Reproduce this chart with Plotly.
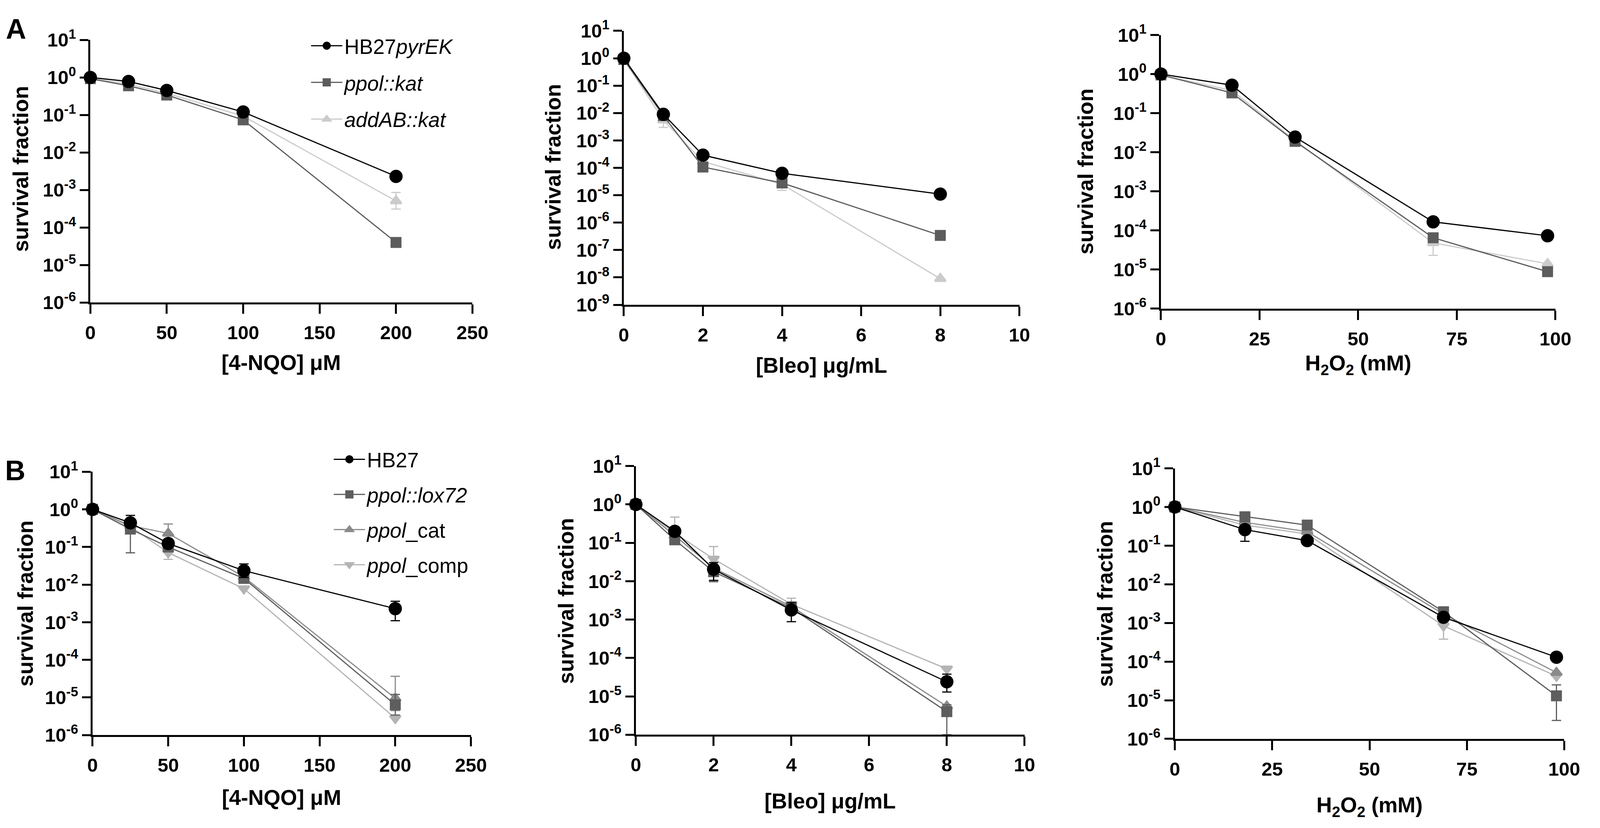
import plotly.graph_objects as go

# doses on the x axes
nqo_dose = [0, 25, 50, 100, 200]
bleo_dose = [0, 1, 2, 4, 8]
h2o2_dose = [0, 18, 34, 69, 98]

# panel A: HB27pyrEK, ppol::kat, addAB::kat
a_names = ['HB27<i>pyrEK</i>', '<i>ppol::kat</i>', '<i>addAB::kat</i>']
a_nqo_hb27 = [1.0, 0.78, 0.45, 0.12, 0.0023]
a_nqo_ppol = [0.93, 0.60, 0.34, 0.074, 4.0e-5]
a_nqo_addab = [0.95, 0.67, 0.38, 0.093, 5.1e-4]
a_nqo_addab_up = [0, 0, 0, 0, 3.5e-4]
a_nqo_addab_down = [0, 0, 0, 0, 2.0e-4]

a_bleo_hb27 = [1.0, 0.009, 2.9e-4, 6.3e-5, 1.1e-5]
a_bleo_ppol = [0.9, 0.008, 1.07e-4, 2.8e-5, 3.4e-7]
a_bleo_addab = [0.9, 5.5e-3, 1.7e-4, 2.5e-5, 9e-9]
a_bleo_addab_up = [0, 2.5e-3, 0, 1.0e-5, 0]
a_bleo_addab_down = [0, 2.5e-3, 0, 1.0e-5, 0]

a_h2o2_hb27 = [1.0, 0.52, 0.0245, 1.66e-4, 7.3e-5]
a_h2o2_ppol = [0.95, 0.33, 0.019, 6.5e-5, 8.8e-6]
a_h2o2_addab = [0.95, 0.38, 0.020, 4.8e-5, 1.4e-5]
a_h2o2_addab_up = [0, 0, 0, 2.5e-5, 0]
a_h2o2_addab_down = [0, 0, 0, 2.5e-5, 0]

# panel B: HB27, ppol::lox72, ppol_cat, ppol_comp
b_names = ['HB27', '<i>ppol::lox72</i>', '<i>ppol</i>_cat', '<i>ppol</i>_comp']
b_nqo_hb27 = [1.0, 0.44, 0.124, 0.0235, 2.3e-3]
b_nqo_hb27_up = [0, 0.25, 0, 0.012, 1.3e-3]
b_nqo_hb27_down = [0, 0.10, 0, 0.008, 1.2e-3]
b_nqo_lox = [1.0, 0.30, 0.10, 0.0146, 6.4e-6]
b_nqo_lox_up = [0, 0.10, 0, 0, 5.6e-6]
b_nqo_lox_down = [0, 0.23, 0, 0, 3.0e-6]
b_nqo_cat = [1.0, 0.37, 0.23, 0.016, 9.5e-6]
b_nqo_cat_up = [0, 0, 0.18, 0, 2.7e-5]
b_nqo_cat_down = [0, 0, 0.10, 0, 5.0e-6]
b_nqo_comp = [1.0, 0.35, 0.071, 7.8e-3, 2.8e-6]
b_nqo_comp_up = [0, 0, 0.03, 0, 0]
b_nqo_comp_down = [0, 0, 0.024, 0, 0]

b_bleo_hb27 = [1.0, 0.20, 0.0205, 1.78e-3, 2.4e-5]
b_bleo_hb27_up = [0, 0.05, 0.01, 1.0e-3, 1.4e-5]
b_bleo_hb27_down = [0, 0.05, 0.01, 9.0e-4, 1.1e-5]
b_bleo_lox = [1.0, 0.12, 0.0177, 2.0e-3, 4.0e-6]
b_bleo_lox_up = [0, 0.02, 0.008, 0, 2.0e-6]
b_bleo_lox_down = [0, 0.02, 0.008, 0, 3.0e-6]
b_bleo_cat = [1.0, 0.155, 0.022, 2.2e-3, 5.5e-6]
b_bleo_comp = [1.0, 0.18, 0.038, 2.5e-3, 5.2e-5]
b_bleo_comp_up = [0, 0.29, 0.042, 1.1e-3, 0]
b_bleo_comp_down = [0, 0.05, 0.01, 0, 0]

b_h2o2_hb27 = [1.0, 0.26, 0.135, 1.4e-3, 1.3e-4]
b_h2o2_hb27_up = [0, 0.05, 0, 0, 0]
b_h2o2_hb27_down = [0, 0.13, 0, 0, 0]
b_h2o2_lox = [1.0, 0.56, 0.34, 1.95e-3, 1.3e-5]
b_h2o2_lox_up = [0, 0, 0, 0, 1.2e-5]
b_h2o2_lox_down = [0, 0, 0, 0, 1.0e-5]
b_h2o2_cat = [1.0, 0.40, 0.23, 1.7e-3, 5.2e-5]
b_h2o2_comp = [1.0, 0.34, 0.20, 8.4e-4, 4.2e-5]
b_h2o2_comp_up = [0, 0, 0, 3.0e-4, 0]
b_h2o2_comp_down = [0, 0, 0, 4.6e-4, 0]

# the browser viewport is 4096 wide and the page body has an 8px margin,
# so lay the figure out in reference pixels and map them onto the viewport
REF_W = 4317
SX = 4096 / REF_W
OFF = 8
FW, FH = 4096 - OFF, 2119 - OFF
FONT = 'Liberation Sans'
FS = 0.975  # font shrink for the narrower viewport


def fx(px):
    return (px * SX - OFF) / FW


def fy(py):
    return 1 - (py - OFF) / FH


# colour, symbol, size per strain (marker outline adds to the size)
a_style = [('#000000', 'circle', 29), ('#5c5c5c', 'square', 23), ('#cbcbcb', 'triangle-up', 24)]
b_style = [('#000000', 'circle', 29), ('#5e5e5e', 'square', 23), ('#8a8a8a', 'triangle-up', 24),
           ('#b4b4b4', 'triangle-down', 24)]

# reference pixel boxes of each plot: (left, right, top, bottom)
boxes = {
    1: (232, 1277, 70, 762),
    2: (1691, 2773, 46, 768),
    3: (3160, 4239, 57, 778),
    4: (238, 1273, 1208, 1902),
    5: (1724, 2787, 1193, 1901),
    6: (3198, 4263, 1199, 1912),
}

fig = go.Figure()


def add_series(n, xs, ys, up, down, name, style, rank, legend, show):
    color, symbol, size = style
    sfx = '' if n == 1 else str(n)
    has_err = up is not None
    fig.add_trace(go.Scatter(
        x=xs, y=ys, name=name, mode='lines+markers',
        xaxis='x' + sfx, yaxis='y' + sfx,
        line=dict(color=color, width=3),
        marker=dict(color=color, symbol=symbol, size=size, line=dict(width=5, color=color)),
        error_y=dict(type='data', symmetric=False,
                     array=up if has_err else [0] * len(ys),
                     arrayminus=down if has_err else [0] * len(ys),
                     color=color, thickness=3, width=12, visible=has_err),
        legendrank=rank, legendgroup=name + legend, legend=legend, showlegend=show,
        cliponaxis=False,
    ))


# drawn light to dark so the black series sits on top
a_sets = [
    (1, nqo_dose, [a_nqo_hb27, a_nqo_ppol, a_nqo_addab],
     [None, None, a_nqo_addab_up], [None, None, a_nqo_addab_down]),
    (2, bleo_dose, [a_bleo_hb27, a_bleo_ppol, a_bleo_addab],
     [None, None, a_bleo_addab_up], [None, None, a_bleo_addab_down]),
    (3, h2o2_dose, [a_h2o2_hb27, a_h2o2_ppol, a_h2o2_addab],
     [None, None, a_h2o2_addab_up], [None, None, a_h2o2_addab_down]),
]
for n, xs, series, ups, downs in a_sets:
    for i in reversed(range(3)):
        add_series(n, xs, series[i], ups[i], downs[i], a_names[i], a_style[i], i + 1, 'legend', n == 1)

b_sets = [
    (4, nqo_dose, [b_nqo_hb27, b_nqo_lox, b_nqo_cat, b_nqo_comp],
     [b_nqo_hb27_up, b_nqo_lox_up, b_nqo_cat_up, b_nqo_comp_up],
     [b_nqo_hb27_down, b_nqo_lox_down, b_nqo_cat_down, b_nqo_comp_down]),
    (5, bleo_dose, [b_bleo_hb27, b_bleo_lox, b_bleo_cat, b_bleo_comp],
     [b_bleo_hb27_up, b_bleo_lox_up, None, b_bleo_comp_up],
     [b_bleo_hb27_down, b_bleo_lox_down, None, b_bleo_comp_down]),
    (6, h2o2_dose, [b_h2o2_hb27, b_h2o2_lox, b_h2o2_cat, b_h2o2_comp],
     [b_h2o2_hb27_up, b_h2o2_lox_up, None, b_h2o2_comp_up],
     [b_h2o2_hb27_down, b_h2o2_lox_down, None, b_h2o2_comp_down]),
]
for n, xs, series, ups, downs in b_sets:
    for i in reversed(range(4)):
        add_series(n, xs, series[i], ups[i], downs[i], b_names[i], b_style[i], i + 1, 'legend2', n == 4)

tickfont = dict(family=FONT, size=round(50 * FS), color='black', weight='bold')
x_ranges = {1: (250, 50), 2: (10, 2), 3: (100, 25), 4: (250, 50), 5: (10, 2), 6: (100, 25)}
y_low = {1: -6, 2: -9, 3: -6, 4: -6, 5: -6, 6: -6}

layout_axes = {}
for n, (l, r, t, b) in boxes.items():
    sfx = '' if n == 1 else str(n)
    xmax, dx = x_ranges[n]
    exps = list(range(y_low[n], 2))
    layout_axes['xaxis' + sfx] = dict(
        domain=[fx(l), fx(r)], range=[0, xmax], dtick=dx, tick0=0, anchor='y' + sfx,
        showline=True, linewidth=5, linecolor='black', ticks='outside', ticklen=24,
        tickwidth=5, tickcolor='black', showgrid=False, zeroline=False, tickfont=tickfont,
        ticklabelstandoff=6,
    )
    layout_axes['yaxis' + sfx] = dict(
        domain=[fy(b), fy(t)], type='log', range=[y_low[n], 1], anchor='x' + sfx,
        tickvals=[10.0 ** e for e in exps], ticktext=['10<sup>%d</sup>' % e for e in exps],
        showline=True, linewidth=5, linecolor='black', ticks='outside', ticklen=22,
        tickwidth=5, tickcolor='black', showgrid=False, zeroline=False, tickfont=tickfont,
    )

# axis titles and panel letters
x_titles = {1: '[4-NQO] μM', 2: '[Bleo] μg/mL', 3: 'H<sub>2</sub>O<sub>2</sub> (mM)',
            4: '[4-NQO] μM', 5: '[Bleo] μg/mL', 6: 'H<sub>2</sub>O<sub>2</sub> (mM)'}
x_title_y = {1: 920, 2: 928, 3: 926, 4: 2066, 5: 2076, 6: 2090}
y_title_x = {1: 42, 2: 1497, 3: 2954, 4: 55, 5: 1534, 6: 3008}
y_title_y = {1: 410, 2: 405, 3: 417, 4: 1555, 5: 1548, 6: 1556}
title_font = dict(family=FONT, size=round(56 * FS), color='black', weight='bold')

annotations = []
for n, (l, r, t, b) in boxes.items():
    annotations.append(dict(
        text=x_titles[n], x=fx((l + r) / 2), y=fy(x_title_y[n]), xref='paper', yref='paper',
        showarrow=False, xanchor='center', yanchor='middle', font=title_font))
    annotations.append(dict(
        text='survival fraction', x=fx(y_title_x[n]), y=fy(y_title_y[n]),
        xref='paper', yref='paper', showarrow=False, textangle=-90,
        xanchor='center', yanchor='middle', font=title_font))
for letter, px, py in [('A', 29, 41), ('B', 27, 1205)]:
    annotations.append(dict(
        text=letter, x=fx(px), y=fy(py), xref='paper', yref='paper', showarrow=False,
        xanchor='center', yanchor='middle',
        font=dict(family=FONT, size=round(74 * FS), color='black', weight='bold')))

legend_font = dict(family=FONT, size=round(54 * FS), color='black')
fig.update_layout(
    width=FW, height=FH, margin=dict(l=0, r=0, t=0, b=0),
    plot_bgcolor='white', paper_bgcolor='white',
    annotations=annotations,
    legend=dict(x=fx(862) - 30 / FW, y=fy(83) + 40 / FH, xanchor='left', yanchor='top',
                font=legend_font, traceorder='grouped', tracegroupgap=22, itemwidth=80,
                bgcolor='rgba(0,0,0,0)'),
    legend2=dict(x=fx(924) - 30 / FW, y=fy(1173) + 40 / FH, xanchor='left', yanchor='top',
                 font=legend_font, traceorder='grouped', tracegroupgap=18, itemwidth=80,
                 bgcolor='rgba(0,0,0,0)'),
    **layout_axes,
)

fig.write_html("out.html")
